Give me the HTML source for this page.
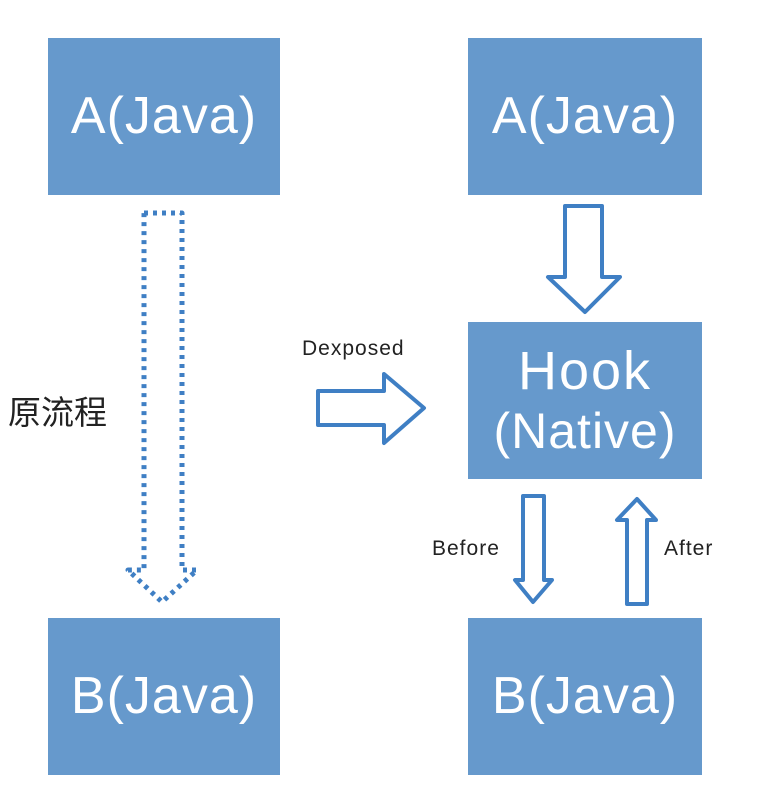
<!DOCTYPE html>
<html><head><meta charset="utf-8"><style>
body{margin:0;background:#fff;width:766px;height:810px;overflow:hidden;position:relative;font-family:"Liberation Sans","Noto Sans CJK SC",sans-serif}
.b{position:absolute;background:#6699cc;color:#fff;display:flex;align-items:center;justify-content:center;text-align:center;font-size:52px;line-height:1.15;white-space:nowrap}
.t{position:absolute;color:#222;font-size:21px;letter-spacing:1px}
</style></head><body>
<div class="b" style="left:48px;top:38px;width:232px;height:157px;letter-spacing:1px">A(Java)</div>
<div class="b" style="left:468px;top:38px;width:234px;height:157px;letter-spacing:1px">A(Java)</div>
<div class="b" style="left:468px;top:322px;width:234px;height:157px;flex-direction:column;line-height:60px"><div style="font-size:54px;letter-spacing:2px">Hook</div><div style="font-size:50px;letter-spacing:1px">(Native)</div></div>
<div class="b" style="left:48px;top:618px;width:232px;height:157px;letter-spacing:1px">B(Java)</div>
<div class="b" style="left:468px;top:618px;width:234px;height:157px;letter-spacing:1px">B(Java)</div>
<div class="t" style="left:8px;top:386px;font-size:33px;letter-spacing:0">原流程</div>
<div class="t" style="left:302px;top:337px">Dexposed</div>
<div class="t" style="left:432px;top:537px">Before</div>
<div class="t" style="left:664px;top:537px">After</div>
<svg width="766" height="810" style="position:absolute;left:0;top:0" fill="#fff" stroke="#3f7fc4" stroke-linejoin="round">
<polygon points="144,213 182,213 182,570 197,570 162,602 128,570 144,570" stroke-width="5" stroke-dasharray="4,5"/>
<polygon points="565,206 602,206 602,277 620,277 585,312 548,277 565,277" stroke-width="4"/>
<polygon points="318,391 384,391 384,374 424,408 384,443 384,425 318,425" stroke-width="4"/>
<polygon points="523,496 544,496 544,580 552,580 533,602 515,580 523,580" stroke-width="4"/>
<polygon points="627,604 647,604 647,520 656,520 637,499 617,520 627,520" stroke-width="4"/>
</svg>
</body></html>
